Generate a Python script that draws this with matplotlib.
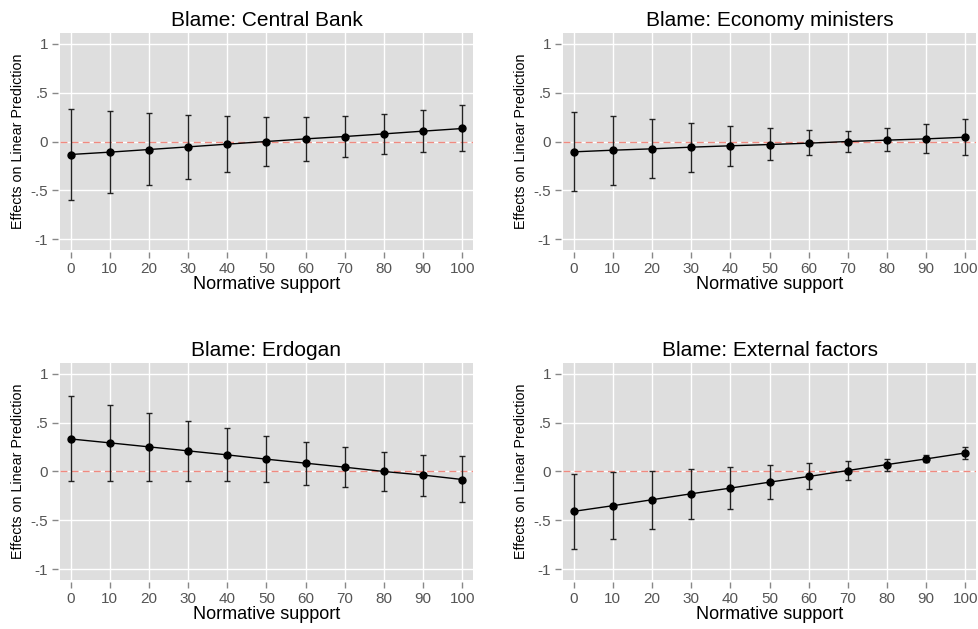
import numpy as np
import matplotlib
matplotlib.use("Agg")
import matplotlib.pyplot as plt

plt.rcParams["font.family"] = ["Liberation Sans", "DejaVu Sans"]

support = [0, 10, 20, 30, 40, 50, 60, 70, 80, 90, 100]
titles = ["Blame: Central Bank", "Blame: Economy ministers",
          "Blame: Erdogan", "Blame: External factors"]

# marginal effects with 95% bounds
cb_est = [-0.133, -0.109, -0.082, -0.055, -0.027, 0.0, 0.027, 0.051, 0.078, 0.106, 0.133]
cb_lo = [-0.597, -0.522, -0.450, -0.379, -0.314, -0.249, -0.198, -0.154, -0.123, -0.109, -0.102]
cb_hi = [0.330, 0.307, 0.287, 0.270, 0.256, 0.249, 0.249, 0.259, 0.280, 0.320, 0.369]

em_est = [-0.106, -0.089, -0.075, -0.058, -0.044, -0.031, -0.017, 0.0, 0.014, 0.027, 0.044]
em_lo = [-0.509, -0.440, -0.375, -0.310, -0.249, -0.191, -0.140, -0.109, -0.102, -0.116, -0.140]
em_hi = [0.297, 0.263, 0.229, 0.191, 0.160, 0.133, 0.113, 0.109, 0.133, 0.174, 0.229]

er_est = [0.333, 0.293, 0.252, 0.211, 0.170, 0.126, 0.085, 0.044, 0.0, -0.037, -0.082]
er_lo = [-0.102, -0.099, -0.099, -0.099, -0.102, -0.112, -0.133, -0.160, -0.200, -0.252, -0.316]
er_hi = [0.772, 0.684, 0.599, 0.520, 0.442, 0.367, 0.303, 0.248, 0.204, 0.173, 0.156]

ex_est = [-0.408, -0.350, -0.289, -0.228, -0.170, -0.109, -0.051, 0.010, 0.071, 0.129, 0.190]
ex_lo = [-0.789, -0.687, -0.585, -0.486, -0.384, -0.286, -0.184, -0.082, 0.010, 0.095, 0.129]
ex_hi = [-0.027, -0.010, 0.007, 0.024, 0.048, 0.068, 0.085, 0.105, 0.129, 0.167, 0.252]

panels = [(cb_est, cb_lo, cb_hi), (em_est, em_lo, em_hi),
          (er_est, er_lo, er_hi), (ex_est, ex_lo, ex_hi)]

fig = plt.figure(figsize=(9.79, 6.29), dpi=100)
W, H = 979, 629
boxes = [(60, 33), (563, 33), (60, 363), (563, 363)]
aw, ah = 413, 217

for (px, py), title, (est, lo, hi) in zip(boxes, titles, panels):
    ax = fig.add_axes([px / W, 1 - (py + ah) / H, aw / W, ah / H])
    ax.set_facecolor("#dedede")
    for s in ax.spines.values():
        s.set_visible(False)
    # ticks sit just off the plot region
    ax.spines["left"].set_position(("outward", 1.2))
    ax.spines["bottom"].set_position(("outward", 1.2))
    ax.grid(True, color="white", linewidth=1.0)
    ax.set_axisbelow(True)

    est = np.array(est)
    yerr = [est - np.array(lo), np.array(hi) - est]
    ax.axhline(0, color="#f08a80", linestyle=(0, (5, 3)), linewidth=1, zorder=2)
    ax.errorbar(support, est, yerr=yerr, fmt="-o", color="black", ecolor="#222222",
                elinewidth=1, capsize=2.5, capthick=1, markersize=5, linewidth=1, zorder=3)

    ax.set_xlim(-2.7, 102.7)
    ax.set_ylim(-1.11, 1.11)
    ax.set_xticks(support)
    ax.set_yticks([-1, -0.5, 0, 0.5, 1])
    ax.set_yticklabels(["-1", "-.5", "0", ".5", "1"])
    ax.tick_params(axis="both", colors="#888888", labelcolor="#555555",
                   labelsize=11, length=4.5, width=1, pad=3)
    ax.set_title(title, fontsize=15, pad=5)
    ax.set_xlabel("Normative support", fontsize=13, labelpad=0)
    ax.set_ylabel("Effects on Linear Prediction", fontsize=10.3, labelpad=4)

fig.savefig("out.png", dpi=100, facecolor="white")
